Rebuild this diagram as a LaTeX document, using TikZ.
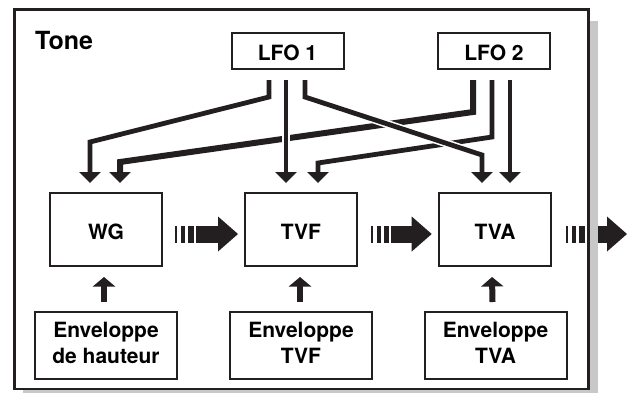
\documentclass[tikz,border=0pt]{standalone}
\usepackage{fontspec}
\setmainfont{TeX Gyre Heros}
\usetikzlibrary{arrows.meta,positioning,calc}
\definecolor{inkBlack}{RGB}{35,31,32}
\definecolor{shadeGray}{RGB}{200,200,200}

\begin{document}
\begin{tikzpicture}[x=1pt, y=-1pt,
    box/.style={draw=inkBlack, line width=2pt, fill=white, inner sep=0pt,
      font=\fontsize{21}{25.4}\selectfont\bfseries, align=center},
    unit/.style={box, minimum width=112pt, minimum height=73pt, text height=20pt, text depth=0pt},
    lfobox/.style={box, minimum width=112pt, minimum height=36pt, text height=18pt, text depth=0pt},
    envbox/.style={box, minimum width=142pt, minimum height=67pt, text depth=5pt},
    lfoline/.style={draw=inkBlack, line width=4.8pt,
      -{Triangle[width=21pt, length=11pt]}},
    crossing/.style={preaction={draw=white, line width=8pt, -}},
    envarrow/.style={draw=inkBlack, line width=6pt,
      -{Triangle[width=22pt, length=9.5pt]}},
    flowarrow/.style={draw=inkBlack, line width=17pt,
      dash pattern=on 2.3pt off 3.5pt on 4.3pt off 3pt on 5.5pt off 2pt on 40pt,
      -{Triangle[width=35pt, length=20pt, line width=0pt]}},
  ]
  \useasboundingbox (0,0) rectangle (629,392);
  \clip (0,0) rectangle (629,392);

  % frame with its shadow
  \fill[shadeGray] (22.5,21) rectangle (598,400);
  \draw[inkBlack, line width=2.6pt, fill=white] (14.7,9.5) rectangle (588.7,389);
  \node[anchor=base west, inner sep=0pt, font=\fontsize{25}{30}\selectfont\bfseries]
    (tone) at (35,49.5) {Tone};

  \node[lfobox] (lfoA) at (287.5,51) {LFO 1};
  \node[lfobox] (lfoB) at (494,51) {LFO 2};

  \node[unit] (wg) at (106,229.5) {WG};
  \node[unit] (tvf) at (301,229.5) {TVF};
  \node[unit] (tva) at (495,229.5) {TVA};

  \node[envbox] (envA) at (106,345.5) {Enveloppe\\de hauteur};
  \node[envbox] (envB) at (301,345.5) {Enveloppe\\TVF};
  \node[envbox] (envC) at (495.5,345.5) {Enveloppe\\TVA};

  % LFO 2 lines first, LFO 1 lines cross over them
  \draw[lfoline, line width=6pt] ([xshift=-21pt,yshift=-10pt]lfoB.south) -- ++(0,32)
    -- ([xshift=14pt,yshift=30pt]wg.north) -- ([xshift=14pt,yshift=9pt]wg.north);
  \draw[lfoline] ([xshift=-2pt,yshift=-10pt]lfoB.south) -- ++(0,57)
    -- ([xshift=17pt,yshift=29pt]tvf.north) -- ([xshift=17pt,yshift=9pt]tvf.north);
  \draw[lfoline] ([xshift=16pt,yshift=-10pt]lfoB.south) -- ([xshift=15pt,yshift=9pt]tva.north);

  \draw[lfoline] ([xshift=-18.5pt,yshift=-10pt]lfoA.south) -- ++(0,17)
    -- ([xshift=-16pt,yshift=50pt]wg.north) -- ([xshift=-16pt,yshift=9pt]wg.north);
  \draw[lfoline, crossing] ([xshift=-1.5pt,yshift=-10pt]lfoA.south) -- ([xshift=-15pt,yshift=9pt]tvf.north);
  \draw[lfoline, crossing] ([xshift=17.5pt,yshift=-10pt]lfoA.south) -- ++(0,17)
    -- ([xshift=-13pt,yshift=37pt]tva.north) -- ([xshift=-13pt,yshift=9pt]tva.north);

  % envelopes
  \draw[envarrow] ([xshift=-2pt,yshift=9pt]envA.north) -- ([xshift=-2pt,yshift=-10pt]wg.south);
  \draw[envarrow] ([xshift=-1pt,yshift=9pt]envB.north) -- ([xshift=-1pt,yshift=-10pt]tvf.south);
  \draw[envarrow] ([xshift=-3pt,yshift=9pt]envC.north) -- ([xshift=-3pt,yshift=-10pt]tva.south);

  % signal flow
  \coordinate (out) at (627,234);
  \draw[flowarrow] ([xshift=12pt,yshift=-4.5pt]wg.east) -- ([xshift=-6pt,yshift=-4.5pt]tvf.west);
  \draw[flowarrow] ([xshift=12.7pt,yshift=-4.5pt]tvf.east) -- ([xshift=-6.3pt,yshift=-4.5pt]tva.west);
  \draw[flowarrow] ([xshift=14pt,yshift=-4.5pt]tva.east) -- (out);

  % shadow and border over the outgoing arrow
  \fill[shadeGray] (590,21) rectangle (598,400);
  \draw[inkBlack, line width=2.6pt] (14.7,9.5) rectangle (588.7,389);
\end{tikzpicture}
\end{document}
